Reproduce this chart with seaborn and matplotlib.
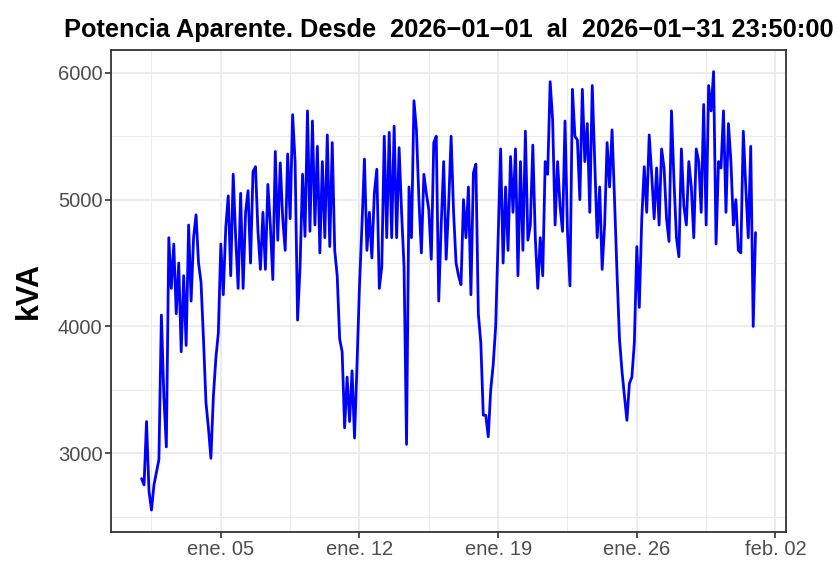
import numpy as np
import pandas as pd
import matplotlib
matplotlib.use("Agg")
import matplotlib.pyplot as plt
import matplotlib.dates as mdates
from matplotlib.ticker import FixedLocator, MultipleLocator
import seaborn as sns

# Potencia aparente (kVA), leída cada 3 horas (8 valores por día), 1 al 31 de enero
kva = [
    2800, 2750, 3250, 2700, 2552, 2750, 2850, 2950,  # 01
    4090, 3450, 3050, 4700, 4300, 4650, 4100, 4500,  # 02
    3800, 4400, 3850, 4800, 4200, 4700, 4880, 4500,  # 03
    4350, 3900, 3400, 3200, 2960, 3450, 3750, 3950,  # 04
    4650, 4250, 4780, 5030, 4400, 5200, 4700, 4300,  # 05
    5050, 4300, 4900, 5070, 4500, 5220, 5260, 4750,  # 06
    4450, 4900, 4450, 5120, 4800, 4370, 5380, 4680,  # 07
    5290, 4850, 4600, 5360, 4850, 5670, 5300, 4050,  # 08
    4470, 5200, 4710, 5700, 4750, 5620, 4800, 5420,  # 09
    4580, 5300, 4700, 5510, 4630, 5450, 4600, 4400,  # 10
    3900, 3800, 3200, 3600, 3250, 3650, 3120, 3700,  # 11
    4320, 4800, 5320, 4600, 4900, 4540, 5050, 5240,  # 12
    4300, 4470, 5500, 4700, 5530, 4700, 5580, 4700,  # 13
    5410, 4900, 4470, 3070, 5100, 4700, 5780, 5550,  # 14
    5000, 4580, 5200, 5050, 4920, 4530, 5450, 5500,  # 15
    4200, 4800, 5300, 4530, 4950, 5500, 4900, 4500,  # 16
    4400, 4330, 5000, 4700, 5100, 4250, 5210, 5280,  # 17
    4100, 3870, 3300, 3300, 3130, 3500, 3700, 4000,  # 18
    4700, 5400, 4500, 5100, 4600, 5340, 4900, 5400,  # 19
    4400, 5300, 4600, 5540, 4680, 4800, 5430, 4700,  # 20
    4300, 4700, 4400, 5300, 5200, 5930, 5630, 4800,  # 21
    5300, 4950, 4750, 5620, 4750, 4320, 5870, 5500,  # 22
    5470, 5000, 5870, 5300, 5600, 4900, 5900, 5300,  # 23
    4700, 5100, 4450, 4800, 5450, 5100, 5550, 5000,  # 24
    4420, 3900, 3650, 3450, 3260, 3550, 3600, 3870,  # 25
    4630, 4150, 4850, 5260, 4900, 5510, 5200, 4850,  # 26
    5250, 4800, 5400, 5250, 4850, 4670, 5700, 5150,  # 27
    4700, 4550, 5400, 4950, 4800, 5300, 5100, 4700,  # 28
    5400, 5300, 4900, 5750, 4800, 5900, 5700, 6010,  # 29
    4650, 5300, 5250, 5700, 4900, 5600, 5300, 4800,  # 30
    5000, 4600, 4580, 5540, 5100, 4700, 5420, 4000,  # 31
]
kva_fin = 4740  # último registro, 31/01 23:50

fecha_ini = "2026-01-01"
fecha_fin = "2026-01-31 23:50:00"
meses = {1: "ene.", 2: "feb."}

tiempos = pd.date_range(fecha_ini, periods=len(kva), freq="3h")
tiempos = tiempos.append(pd.DatetimeIndex([pd.Timestamp(fecha_fin)]))
df = pd.DataFrame({"fecha": tiempos, "kVA": kva + [kva_fin]})

sns.set_theme(style="whitegrid")
plt.rcParams["font.family"] = ["Liberation Sans", "DejaVu Sans"]

fig = plt.figure(figsize=(8.4, 5.68), dpi=100)
ax = fig.add_axes([0.132, 0.0634, 0.804, 0.849])

sns.lineplot(data=df, x="fecha", y="kVA", color="#0000FF", linewidth=2.0, ax=ax)

# limites con expansion del 5% como en ggplot
t0 = mdates.date2num(df["fecha"].iloc[0])
t1 = mdates.date2num(df["fecha"].iloc[-1])
dx = (t1 - t0) * 0.05
ax.set_xlim(t0 - dx, t1 + dx)
ax.set_ylim(2379, 6182)

# ticks semanales (lunes) y menores a mitad de camino
ax.xaxis.set_major_locator(mdates.WeekdayLocator(byweekday=mdates.MO))
mayores = ax.get_xticks()
ax.xaxis.set_minor_locator(FixedLocator(np.append(mayores - 3.5, mayores[-1] + 3.5)))
ax.xaxis.set_major_formatter(plt.FuncFormatter(
    lambda v, p: f"{meses[mdates.num2date(v).month]} {mdates.num2date(v).day:02d}"))
ax.yaxis.set_major_locator(MultipleLocator(1000))
ax.yaxis.set_minor_locator(MultipleLocator(500))

ax.set_facecolor("white")
ax.grid(which="major", color="#EBEBEB", linewidth=1.3)
ax.grid(which="minor", color="#EBEBEB", linewidth=0.7)
ax.set_axisbelow(True)
for s in ax.spines.values():
    s.set_color("#333333")
    s.set_linewidth(1.3)

ax.tick_params(axis="both", which="major", length=4, width=1.2, color="#333333",
               labelsize=14.5, labelcolor="#4D4D4D", pad=2, bottom=True, left=True)
ax.tick_params(axis="both", which="minor", length=0)

ax.set_xlabel("")
ax.set_ylabel("kVA", fontsize=22, fontweight="bold", color="black", labelpad=10)
ax.set_title(f"Potencia Aparente. Desde  2026\u221201\u221201  al  2026\u221201\u221231 23:50:00",
             fontsize=18.3, fontweight="bold", color="black", pad=9)

plt.savefig("out.png", dpi=100)
plt.close()
